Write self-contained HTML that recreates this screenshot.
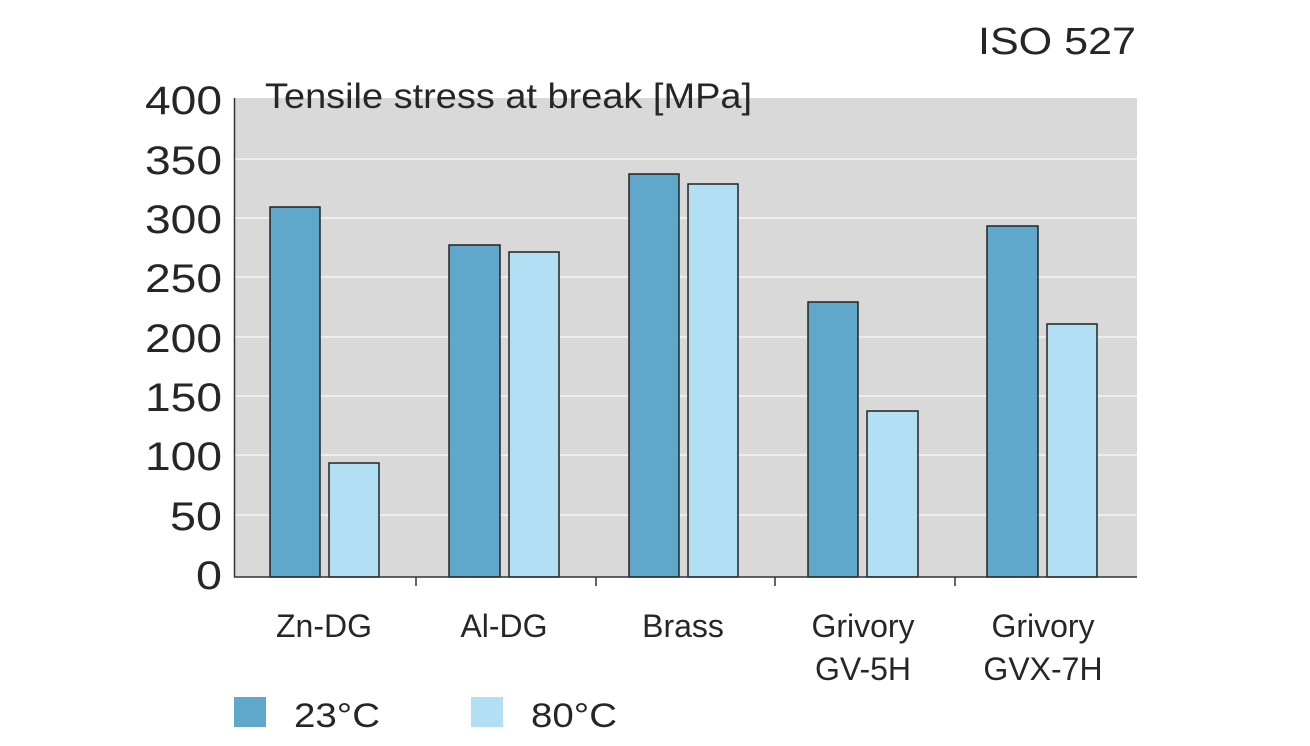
<!DOCTYPE html>
<html><head><style>
body{margin:0;background:#fff;}
svg text{font-family:"Liberation Sans",sans-serif;fill:#262626;}
</style></head><body>
<svg width="1310" height="741" viewBox="0 0 1310 741" xmlns="http://www.w3.org/2000/svg">
<rect x="234" y="98" width="903" height="479" fill="#d9d9d9"/>
<g stroke="#f4f4f4" stroke-width="1.5">
<line x1="234" x2="1137" y1="159" y2="159"/>
<line x1="234" x2="1137" y1="218" y2="218"/>
<line x1="234" x2="1137" y1="277" y2="277"/>
<line x1="234" x2="1137" y1="337" y2="337"/>
<line x1="234" x2="1137" y1="396" y2="396"/>
<line x1="234" x2="1137" y1="455" y2="455"/>
<line x1="234" x2="1137" y1="515" y2="515"/>
</g>
<g stroke="#222" stroke-width="1.5">
<rect x="270" y="207" width="50" height="370" fill="#5fa8cc"/>
<rect x="329" y="463" width="50" height="114" fill="#b3dff5"/>
<rect x="449" y="245" width="51" height="332" fill="#5fa8cc"/>
<rect x="509" y="252" width="50" height="325" fill="#b3dff5"/>
<rect x="629" y="174" width="50" height="403" fill="#5fa8cc"/>
<rect x="688" y="184" width="50" height="393" fill="#b3dff5"/>
<rect x="808" y="302" width="50" height="275" fill="#5fa8cc"/>
<rect x="867" y="411" width="51" height="166" fill="#b3dff5"/>
<rect x="987" y="226" width="51" height="351" fill="#5fa8cc"/>
<rect x="1047" y="324" width="50" height="253" fill="#b3dff5"/>
</g>
<g stroke="#333" stroke-width="1.5">
<line x1="234.5" y1="98" x2="234.5" y2="577"/>
<line x1="234" y1="577" x2="1137" y2="577"/>
<line x1="416" y1="577" x2="416" y2="586"/>
<line x1="596" y1="577" x2="596" y2="586"/>
<line x1="775" y1="577" x2="775" y2="586"/>
<line x1="955" y1="577" x2="955" y2="586"/>
</g>
<g font-size="40" text-anchor="end">
<text x="222" y="114" textLength="77" lengthAdjust="spacingAndGlyphs">400</text>
<text x="222" y="174" textLength="77" lengthAdjust="spacingAndGlyphs">350</text>
<text x="222" y="233" textLength="77" lengthAdjust="spacingAndGlyphs">300</text>
<text x="222" y="292" textLength="77" lengthAdjust="spacingAndGlyphs">250</text>
<text x="222" y="352" textLength="77" lengthAdjust="spacingAndGlyphs">200</text>
<text x="222" y="411" textLength="77" lengthAdjust="spacingAndGlyphs">150</text>
<text x="222" y="470" textLength="77" lengthAdjust="spacingAndGlyphs">100</text>
<text x="222" y="530" textLength="52" lengthAdjust="spacingAndGlyphs">50</text>
<text x="222" y="589" textLength="26" lengthAdjust="spacingAndGlyphs">0</text>
</g>
<text x="265" y="108" font-size="35" textLength="487" lengthAdjust="spacingAndGlyphs">Tensile stress at break [MPa]</text>
<text x="978" y="54" font-size="38" textLength="158" lengthAdjust="spacingAndGlyphs">ISO 527</text>
<g font-size="32" text-anchor="middle">
<text x="324" y="637">Zn-DG</text>
<text x="504" y="637">Al-DG</text>
<text x="683" y="637">Brass</text>
<text x="863" y="637">Grivory</text>
<text x="863" y="680">GV-5H</text>
<text x="1043" y="637">Grivory</text>
<text x="1043" y="680">GVX-7H</text>
</g>
<rect x="234" y="697" width="32" height="30" fill="#5fa8cc"/>
<rect x="471" y="697" width="32" height="30" fill="#b3dff5"/>
<text x="294" y="727" font-size="34" textLength="86" lengthAdjust="spacingAndGlyphs">23°C</text>
<text x="531" y="727" font-size="34" textLength="86" lengthAdjust="spacingAndGlyphs">80°C</text>
</svg>
</body></html>
